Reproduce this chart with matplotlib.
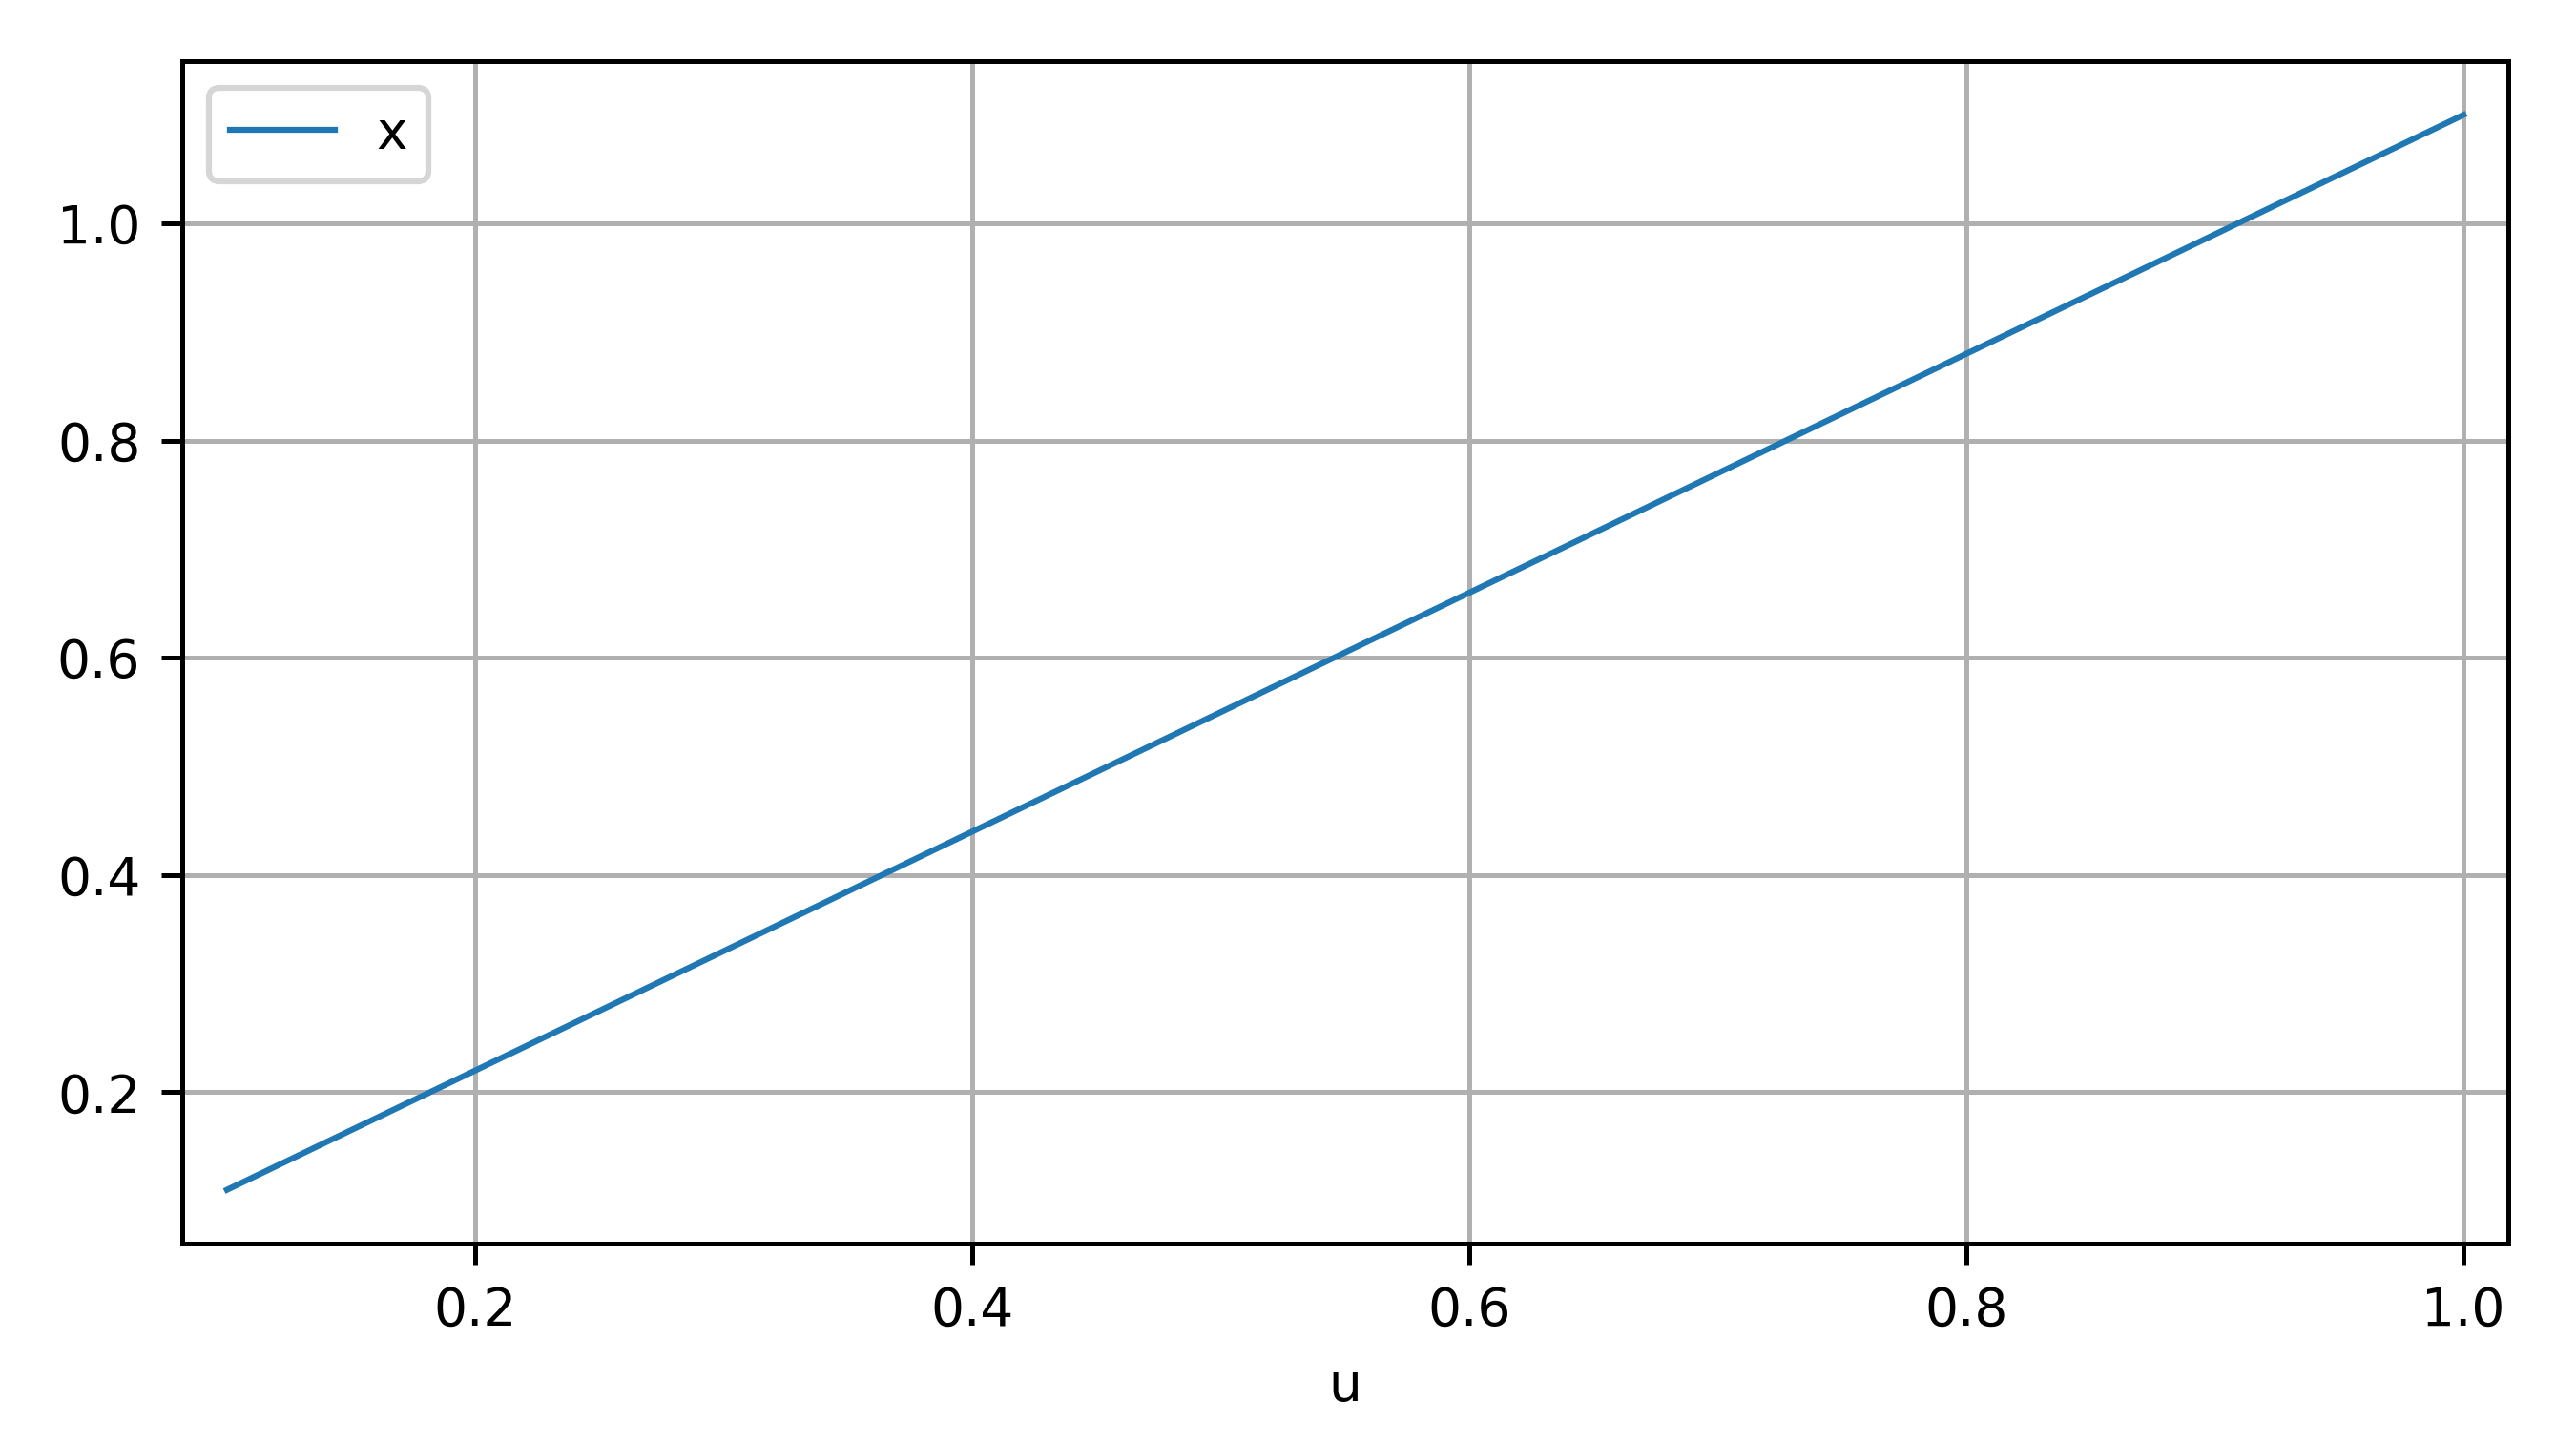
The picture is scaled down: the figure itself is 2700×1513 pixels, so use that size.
import matplotlib
matplotlib.use("Agg")
from matplotlib import pyplot as plt

u = [0.1, 0.2, 0.3, 0.4, 0.5, 0.6, 0.7, 0.8, 0.9, 1.0]
x = [0.11, 0.22, 0.33, 0.44, 0.55, 0.66, 0.77, 0.88, 0.99, 1.10]

plt.rcParams["font.size"] = 8.8

fig = plt.figure(figsize=(6, 1513/450))
ax = fig.add_axes([191/2700, 1 - 1303/1513, (2629-191)/2700, (1303-64)/1513])
ax.plot(u, x, lw=1.0, label="x")
ax.set_xlabel("u")
ax.margins(x=0.02)
ax.grid(True)
ax.legend(loc="upper left")

fig.savefig("out.png", dpi=450)
